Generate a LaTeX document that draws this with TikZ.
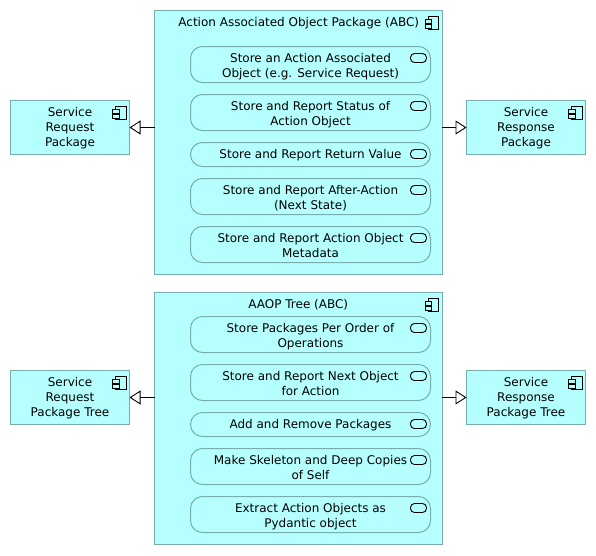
\documentclass[tikz,border=0pt]{standalone}
\usepackage{fontspec}
\setmainfont{DejaVu Sans}
\usetikzlibrary{arrows.meta}
\definecolor{appfill}{HTML}{B5FFFF}
\definecolor{appline}{HTML}{78AEAE}
\tikzset{
  x=1pt,y=-1pt,
  boxbase/.style={draw=appline,fill=appfill,line width=1pt,inner sep=0pt,outer sep=0pt},
  pkg/.style={boxbase,minimum width=119pt,minimum height=54pt},
  bigpkg/.style={boxbase,minimum width=287.5pt},
  svc/.style={boxbase,rounded corners=12pt,minimum width=240pt},
  boxtext/.style={inner sep=0pt,outer sep=0pt,anchor=north,align=center,
    font=\fontsize{12}{15}\selectfont,text=black},
  realize/.style={draw=black,line width=0.9pt,-{Triangle[open,length=11pt,width=14pt,line width=0.9pt,fill=white]}},
  iconline/.style={draw=black,line width=1pt},
}
% text of a box, set from the top edge of the box: #1 = box node name
\newcommand{\boxlabel}[2]{\node[boxtext] (#1t) at (#1.north) {\rule{0pt}{15.5pt}#2};}
% component icon; #1 = box node name
\newcommand{\compicon}[1]{%
  \draw[iconline] ([shift={(-14,5.5)}]#1.north east) rectangle ([shift={(-3.5,19)}]#1.north east);
  \draw[iconline,fill=appfill] ([shift={(-17,9)}]#1.north east) rectangle ([shift={(-10.5,12.5)}]#1.north east);
  \draw[iconline,fill=appfill] ([shift={(-17,14)}]#1.north east) rectangle ([shift={(-10.5,17.5)}]#1.north east);
}
% service icon; #1 = box node name
\newcommand{\svcicon}[1]{%
  \draw[draw=black,line width=0.9pt,rounded corners=4pt] ([shift={(-20,7)}]#1.north east) rectangle ([shift={(-4,16)}]#1.north east);
}
\begin{document}
\begin{tikzpicture}
\useasboundingbox (0,0) rectangle (596,555);
\fill[white] (0,0) rectangle (596,555);
% first group
\node[bigpkg,minimum height=263.5pt] (big1) at (298.25,142.25) {};
\node[pkg] (reqp) at (70,127.5) {};
\node[pkg] (resp) at (526,127.5) {};
\node[svc,minimum height=36pt] (a1) at (310.5,64.5) {};
\node[svc,minimum height=36pt] (a2) at (310.5,112.5) {};
\node[svc,minimum height=24pt] (a3) at (310.5,154.5) {};
\node[svc,minimum height=36pt] (a4) at (310.5,196.5) {};
\node[svc,minimum height=36pt] (a5) at (310.5,244.5) {};
\boxlabel{big1}{\hspace*{1pt}Action Associated Object Package (ABC)}
\boxlabel{reqp}{Service\\Request\\Package}
\boxlabel{resp}{Service\\Response\\Package}
\boxlabel{a1}{Store an Action Associated\\Object (e.g. Service Request)}
\boxlabel{a2}{Store and Report Status of\\Action Object}
\boxlabel{a3}{Store and Report Return Value}
\boxlabel{a4}{Store and Report After-Action\\(Next State)}
\boxlabel{a5}{Store and Report Action Object\\Metadata}
% second group
\node[bigpkg,minimum height=252pt] (big2) at (298.25,418.5) {};
\node[pkg] (reqt) at (70,397.5) {};
\node[pkg] (rest) at (526,397.5) {};
\node[svc,minimum height=36pt] (b1) at (310.5,334.5) {};
\node[svc,minimum height=36pt] (b2) at (310.5,382.5) {};
\node[svc,minimum height=24pt] (b3) at (310.5,424.5) {};
\node[svc,minimum height=36pt] (b4) at (310.5,466.5) {};
\node[svc,minimum height=36pt] (b5) at (310.5,514.5) {};
\boxlabel{big2}{AAOP Tree (ABC)}
\boxlabel{reqt}{Service\\Request\\Package Tree}
\boxlabel{rest}{Service\\Response\\Package Tree}
\boxlabel{b1}{Store Packages Per Order of\\Operations}
\boxlabel{b2}{Store and Report Next Object\\for Action}
\boxlabel{b3}{Add and Remove Packages}
\boxlabel{b4}{Make Skeleton and Deep Copies\\of Self}
\boxlabel{b5}{Extract Action Objects as\\Pydantic object}
% icons
\compicon{big1}\compicon{reqp}\compicon{resp}
\compicon{big2}\compicon{reqt}\compicon{rest}
\foreach \n in {a1,a2,a3,a4,a5,b1,b2,b3,b4,b5}{\svcicon{\n}}
% connectors
\draw[realize] (big1.west |- reqp.east) -- (reqp.east);
\draw[realize] (big1.east |- resp.west) -- (resp.west);
\draw[realize] (big2.west |- reqt.east) -- (reqt.east);
\draw[realize] (big2.east |- rest.west) -- (rest.west);
\end{tikzpicture}
\end{document}
